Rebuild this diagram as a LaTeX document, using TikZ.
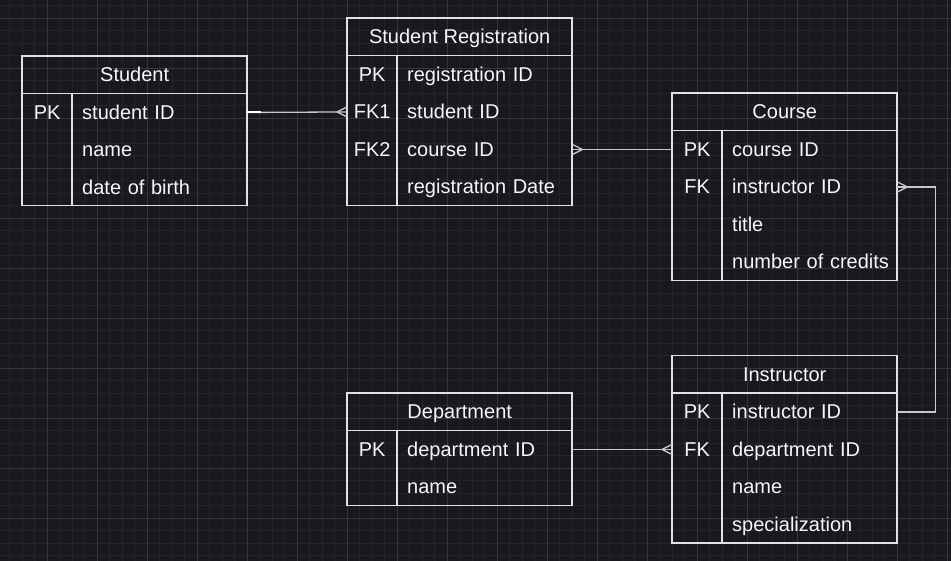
\documentclass[tikz,border=0pt]{standalone}
\usepackage{fontspec}
\setmainfont{Liberation Sans}
\usetikzlibrary{calc}
\definecolor{bg}{HTML}{19181F}
\definecolor{gridminor}{HTML}{24232A}
\definecolor{gridmajor}{HTML}{36353C}
\definecolor{boxline}{HTML}{E2E2E2}
\definecolor{connline}{HTML}{C8C8C8}
\definecolor{txt}{HTML}{F6F6F6}
\tikzset{
  cellfont/.style={text=txt, font=\fontsize{20}{22}\selectfont, text height=14pt, text depth=0pt},
  hdr/.style={cellfont, minimum width=225pt, minimum height=37.5pt, inner sep=0pt, anchor=north west},
  keycell/.style={cellfont, minimum width=50pt, minimum height=37.5pt, inner sep=0pt, anchor=north west},
  fieldcell/.style={cellfont, text width=155pt, inner xsep=10pt, inner ysep=0pt, minimum height=37.5pt, align=left, anchor=north west},
  tabframe/.style={draw=boxline, line width=1.3pt},
  conn/.style={draw=connline, line width=1.3pt},
}
% crow's foot: #1 = anchor point on box edge, #2 = direction (+1 apex to the right, -1 apex to the left)
\newcommand\crowfoot[2]{%
  \draw[conn] ($(#1)+(#2*10,0)$) -- ($(#1)+(0,-5)$)
              ($(#1)+(#2*10,0)$) -- ($(#1)+(0,5)$);}
\begin{document}
\begin{tikzpicture}[x=1pt,y=-1pt]
\useasboundingbox (0,0) rectangle (951,560);
\fill[bg] (-5,-5) rectangle (956,565);
\begin{scope}
\clip (-5,-5) rectangle (956,565);
\begin{scope}[shift={(-3,5.5)}]
\draw[gridminor, line width=0.8pt] (-20,-20) grid[step=12.5pt] (980,580);
\end{scope}
\foreach \gx in {47,97,...,947} \draw[gridmajor, line width=1pt] (\gx,-5) -- (\gx,565);
\foreach \gy in {18,68,...,560} \draw[gridmajor, line width=1pt] (-5,\gy) -- (956,\gy);
\end{scope}

% ---------- Student ----------
\draw[tabframe] (22,56) rectangle (247,205.5);
\draw[tabframe] (22,93.5) -- (247,93.5);
\draw[tabframe] (72,93.5) -- (72,205.5);
\node[hdr] (stu) at (22,56) {Student};
\node[keycell] (stu-k1) at (22,93.5) {PK};
\node[fieldcell] (stu-f1) at (72,93.5) {student ID};
\node[fieldcell] (stu-f2) at (72,131) {name};
\node[fieldcell] (stu-f3) at (72,168.5) {date of birth};

% ---------- Student Registration ----------
\draw[tabframe] (347,18) rectangle (572,205.5);
\draw[tabframe] (347,55.5) -- (572,55.5);
\draw[tabframe] (397,55.5) -- (397,205.5);
\node[hdr] (reg) at (347,18) {Student Registration};
\node[keycell] (reg-k1) at (347,55.5) {PK};
\node[fieldcell] (reg-f1) at (397,55.5) {registration ID};
\node[keycell] (reg-k2) at (347,93) {FK1};
\node[fieldcell] (reg-f2) at (397,93) {student ID};
\node[keycell] (reg-k3) at (347,130.5) {FK2};
\node[fieldcell] (reg-f3) at (397,130.5) {course ID};
\node[fieldcell] (reg-f4) at (397,168) {\mbox{registration Date}};

% ---------- Course ----------
\draw[tabframe] (672,93) rectangle (897,280.5);
\draw[tabframe] (672,130.5) -- (897,130.5);
\draw[tabframe] (722,130.5) -- (722,280.5);
\node[hdr] (crs) at (672,93) {Course};
\node[keycell] (crs-k1) at (672,130.5) {PK};
\node[fieldcell] (crs-f1) at (722,130.5) {course ID};
\node[keycell] (crs-k2) at (672,168) {FK};
\node[fieldcell] (crs-f2) at (722,168) {instructor ID};
\node[fieldcell] (crs-f3) at (722,205.5) {title};
\node[fieldcell] (crs-f4) at (722,243) {\mbox{number of credits}};

% ---------- Instructor ----------
\draw[tabframe] (672,355.5) rectangle (897,543);
\draw[tabframe] (672,393) -- (897,393);
\draw[tabframe] (722,393) -- (722,543);
\node[hdr] (ins) at (672,355.5) {Instructor};
\node[keycell] (ins-k1) at (672,393) {PK};
\node[fieldcell] (ins-f1) at (722,393) {instructor ID};
\node[keycell] (ins-k2) at (672,430.5) {FK};
\node[fieldcell] (ins-f2) at (722,430.5) {department ID};
\node[fieldcell] (ins-f3) at (722,468) {name};
\node[fieldcell] (ins-f4) at (722,505.5) {specialization};

% ---------- Department ----------
\draw[tabframe] (347,393) rectangle (572,505.5);
\draw[tabframe] (347,430.5) -- (572,430.5);
\draw[tabframe] (397,430.5) -- (397,505.5);
\node[hdr] (dep) at (347,393) {Department};
\node[keycell] (dep-k1) at (347,430.5) {PK};
\node[fieldcell] (dep-f1) at (397,430.5) {department ID};
\node[fieldcell] (dep-f2) at (397,468) {name};

% ---------- Connectors ----------
\draw[conn] (stu-f1.east) -- (reg-k2.west);
\draw[draw=white, line width=2pt] (stu-f1.east) -- ++(14,0);
\crowfoot{reg-k2.west}{-1}
\draw[conn] (reg-f3.east) -- (crs-k1.west);
\crowfoot{reg-f3.east}{1}
\draw[conn] (crs-f2.east) -- ++(38,0) coordinate (bend) |- (ins-f1.east);
\crowfoot{crs-f2.east}{1}
\draw[conn] (dep-f1.east) -- (ins-k2.west);
\crowfoot{ins-k2.west}{-1}
\end{tikzpicture}
\end{document}
